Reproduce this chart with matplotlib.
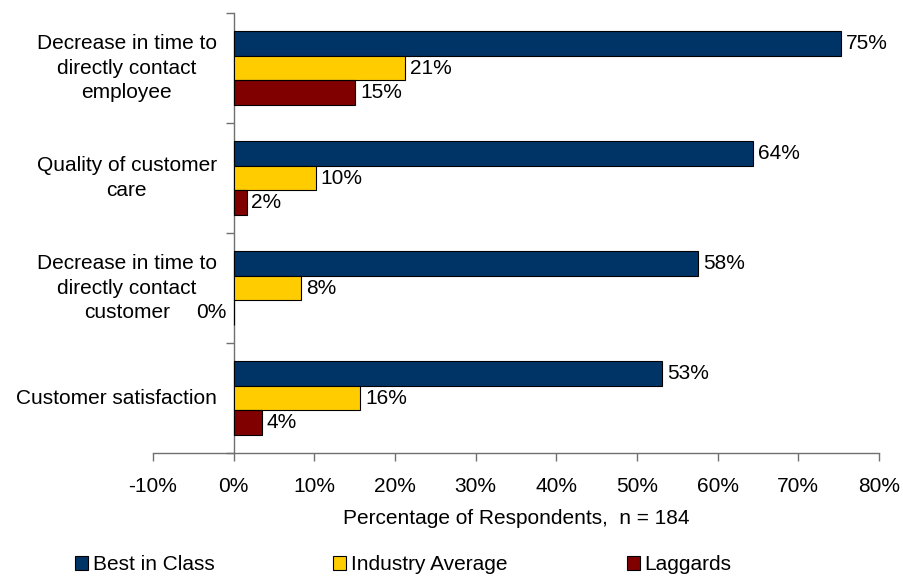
import matplotlib
matplotlib.use("Agg")
import matplotlib.pyplot as plt
import numpy as np
from matplotlib.patches import Patch

plt.rcParams['font.family'] = ['Liberation Sans', 'DejaVu Sans']

categories = ["Decrease in time to\ndirectly contact\nemployee",
              "Quality of customer\ncare",
              "Decrease in time to\ndirectly contact\ncustomer",
              "Customer satisfaction"]
series_names = ["Best in Class", "Industry Average", "Laggards"]
best_in_class = [75.3, 64.4, 57.6, 53.1]
industry_avg = [21.3, 10.2, 8.4, 15.7]
laggards = [15.1, 1.6, 0.0, 3.5]
colors = ["#003366", "#FFCC00", "#800000"]
x_ticks = [-10, 0, 10, 20, 30, 40, 50, 60, 70, 80]
x_label = "Percentage of Respondents,  n = 184"

FS = 15
fig = plt.figure(figsize=(9.04, 5.76), dpi=100)
ax = fig.add_axes([153/904, 1-453/576, (879-153)/904, (453-13)/576])

y = np.arange(len(categories))
h = 0.223
axis_col = '#707070'
for k, (vals, col) in enumerate(zip([best_in_class, industry_avg, laggards], colors)):
    pos = y + (k - 1) * h
    ax.barh(pos, vals, height=h, color=col, edgecolor='black', linewidth=0.8,
            label=series_names[k], zorder=3)
    for p, v in zip(pos, vals):
        if v > 0:
            ax.annotate(f"{v:.0f}%", xy=(v, p), xytext=(3.5, 0), textcoords='offset points',
                        ha='left', va='center', fontsize=FS)
        else:
            ax.annotate(f"{v:.0f}%", xy=(0, p), xytext=(-5, 0), textcoords='offset points',
                        ha='right', va='center', fontsize=FS)

# category labels (centered multi-line, right edge near the axis)
for yi, cat in zip(y, categories):
    ax.annotate(cat, xy=(0, yi), xytext=(-12.2, 0), textcoords='offset points',
                ha='right', va='center', multialignment='center', fontsize=FS,
                linespacing=1.36, annotation_clip=False)

ax.set_xlim(-10, 80)
ax.set_ylim(3.5, -0.5)
ax.set_xticks(x_ticks)
ax.set_xticklabels([f"{t}%" for t in x_ticks], fontsize=FS)
ax.tick_params(axis='x', direction='out', length=6, width=1, color=axis_col, pad=11)

ax.set_yticks(np.arange(-0.5, len(categories), 1.0))
ax.set_yticklabels([])
ax.tick_params(axis='y', which='major', direction='out', length=6, width=1, color=axis_col)

ax.spines['left'].set_position(('data', 0))
ax.spines['top'].set_visible(False)
ax.spines['right'].set_visible(False)
for s in ['left', 'bottom']:
    ax.spines[s].set_color(axis_col)
    ax.spines[s].set_linewidth(1)

ax.set_xlabel(x_label, fontsize=FS, labelpad=10)

handles = [Patch(facecolor=c, edgecolor='black', linewidth=0.8) for c in colors]
fig.legend(handles, series_names, loc='center', bbox_to_anchor=(0.446, 1-565/576),
           ncol=3, frameon=False, fontsize=FS, handlelength=0.625, handleheight=0.625,
           handletextpad=0.24, columnspacing=5.7, borderpad=0)

fig.savefig("out.png", dpi=100)
